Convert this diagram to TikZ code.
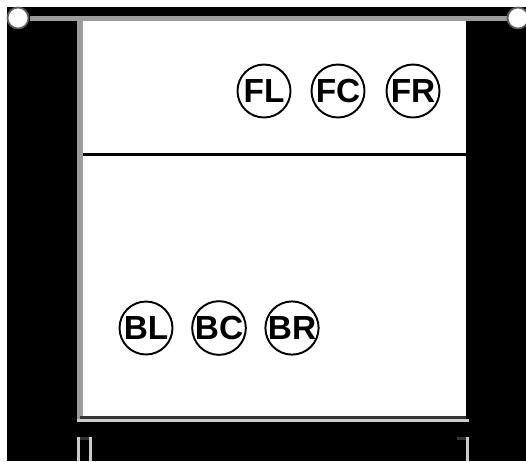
\documentclass[tikz,border=0pt]{standalone}
\usepackage{fontspec}
\setmainfont{Liberation Sans}
\usepackage{xcolor}
\usepackage{tikz}
\definecolor{railgray}{HTML}{9C9C9C}
\definecolor{edgedark}{HTML}{333333}
\definecolor{edgelight}{HTML}{CCCCCC}

\begin{document}
\begin{tikzpicture}[
  x=0.02cm, y=-0.02cm,
  seat/.style={circle, draw=black, line width=1.1pt, fill=white, minimum size=1.06cm, inner sep=0pt, font=\fontsize{19}{19}\selectfont\bfseries},
  handle/.style={circle, draw=edgedark!80, line width=1pt, fill=white, minimum size=0.42cm, inner sep=0pt},
  divider/.style={draw=black, line width=1.7pt}
]
\useasboundingbox (0,0) rectangle (526,461);
% frame
\fill[black] (7,7) rectangle (526,461);
\fill[white] (83,21) rectangle (466,416);
\fill[railgray] (30,16) rectangle (508,21);
\fill[railgray] (77,21) rectangle (83,419);
\fill[edgedark] (80,416) rectangle (466,419);
\fill[edgelight] (77,419) rectangle (469,422);
% feet
\fill[edgelight] (77,437) rectangle (80,461);
\fill[edgelight] (89,437) rectangle (92,461);
\fill[edgedark] (80,437) rectangle (89,440);
\fill[edgedark] (457,437) rectangle (466,440);
\fill[edgelight] (466,437) rectangle (469,461);

\node[handle] (hl) at (18,18) {};
\node[handle] (hr) at (518,18) {};

\coordinate (dl) at (83,154.5);
\coordinate (dr) at (466,154.5);
\draw[divider] (dl) -- (dr);

\node[seat] (fl) at (264,91) {FL};
\node[seat] (fc) at (338,91) {FC};
\node[seat] (fr) at (413,91) {FR};

\node[seat] (bl) at (146,328) {BL};
\node[seat] (bc) at (219,328) {BC};
\node[seat] (br) at (292,328) {BR};
\end{tikzpicture}
\end{document}
